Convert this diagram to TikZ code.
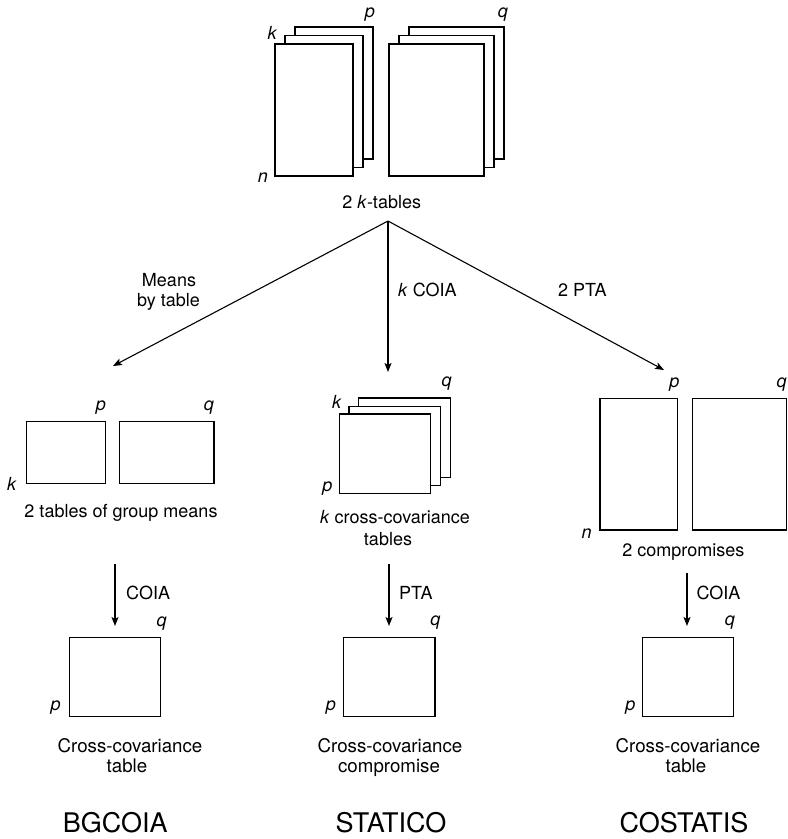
\documentclass[tikz,border=0pt]{standalone}
\usepackage{fontspec}
\setmainfont{TeX Gyre Heros}
\usetikzlibrary{arrows.meta}
\begin{document}
\begin{tikzpicture}[x=1pt,y=-1pt,
  tbl/.style={draw, line width=1.3pt, fill=white, inner sep=0pt, outer sep=0pt},
  txt/.style={inner sep=0pt, font=\fontsize{18}{21}\selectfont},
  captxt/.style={txt, anchor=base},
  lbl/.style={txt, anchor=base west},
  bcap/.style={inner sep=0pt, anchor=base, font=\fontsize{18.7}{21}\selectfont},
  dimlab/.style={inner sep=0pt, font=\fontsize{18}{21}\selectfont\itshape},
  titletxt/.style={inner sep=0pt, anchor=base, font=\fontsize{27}{30}\selectfont},
  arr/.style={line width=1.1pt, -{Stealth[length=9pt,width=7pt,inset=2pt]}}]
\useasboundingbox (0,0) rectangle (788,839);

% ---------- top: 2 k-tables ----------
\node[tbl, minimum width=78pt, minimum height=132pt] (tLb) at (334,93) {};
\node[tbl, minimum width=78pt, minimum height=132pt] (tLm) at (324,101.5) {};
\node[tbl, minimum width=78pt, minimum height=132pt] (tLf) at (314,110) {};
\node[tbl, minimum width=95pt, minimum height=132pt] (tRb) at (456.5,93) {};
\node[tbl, minimum width=95pt, minimum height=132pt] (tRm) at (446.5,101.5) {};
\node[tbl, minimum width=95pt, minimum height=132pt] (tRf) at (436.5,110) {};
\node[dimlab] (tk) at (272,33) {k};
\node[dimlab] (tp) at (370,15) {p};
\node[dimlab] (tn) at (263,178) {n};
\node[dimlab] (tq) at (503,15) {q};
\node[captxt] (ktables) at (381.7,208) {2 \textit{k}-tables};

% ---------- branch arrows ----------
\coordinate (apex) at (388,221);
\coordinate (endL) at (113,366);
\coordinate (endM) at (388,372);
\coordinate (endR) at (664,370);
\draw[arr] (apex) -- (endL);
\draw[arr] (apex) -- (endM);
\draw[arr] (apex) -- (endR);
\node[captxt] (means1) at (169,286) {Means};
\node[captxt] (means2) at (168.5,306.7) {by table};
\node[lbl] (kcoia) at (398,296) {\textit{k} COIA};
\node[lbl] (pta2) at (558,296) {2 PTA};

% ---------- middle left: group means ----------
\node[tbl, minimum width=78.6pt, minimum height=61.6pt] (gmL) at (66,452.5) {};
\node[tbl, minimum width=94.7pt, minimum height=61.6pt] (gmR) at (166.7,452.5) {};
\node[dimlab] (gk) at (11.7,484) {k};
\node[dimlab] (gp) at (101,408) {p};
\node[dimlab] (gq) at (209,408) {q};
\node[captxt] (gcap) at (121,517) {2 tables of group means};

% ---------- middle: k cross-covariance tables ----------
\node[tbl, minimum width=91.4pt, minimum height=79.3pt] (ccb) at (404.5,437.7) {};
\node[tbl, minimum width=91.4pt, minimum height=79.3pt] (ccm) at (394.7,445.8) {};
\node[tbl, minimum width=91.4pt, minimum height=79.3pt] (ccf) at (385,453.7) {};
\node[dimlab] (ck) at (336.7,401.7) {k};
\node[dimlab] (cp) at (327.3,488.3) {p};
\node[dimlab] (cq) at (446.7,383.3) {q};
\node[captxt] (ccap1) at (395,523.5) {\textit{k} cross-covariance};
\node[captxt] (ccap2) at (388,545) {tables};

% ---------- middle right: compromises ----------
\node[tbl, minimum width=77.7pt, minimum height=131.7pt] (cmL) at (638.9,464.2) {};
\node[tbl, minimum width=94.4pt, minimum height=131.7pt] (cmR) at (739.5,464.2) {};
\node[dimlab] (mp) at (674.3,385) {p};
\node[dimlab] (mq) at (781.7,385) {q};
\node[dimlab] (mn) at (586.7,534) {n};
\node[captxt] (mcap) at (683.3,556) {2 compromises};

% ---------- second arrows ----------
\coordinate (sL) at (115,564);
\coordinate (eL) at (115,626);
\coordinate (sM) at (389,564);
\coordinate (eM) at (389,626);
\coordinate (sR) at (687,573);
\coordinate (eR) at (687,626);
\draw[arr] (sL) -- (eL);
\draw[arr] (sM) -- (eM);
\draw[arr] (sR) -- (eR);
\node[lbl] (coiaL) at (126,599) {COIA};
\node[lbl] (ptaM) at (399,599) {PTA};
\node[lbl] (coiaR) at (696.4,599) {COIA};

% ---------- bottom squares ----------
\node[tbl, minimum width=91.4pt, minimum height=79.4pt] (bL) at (114.9,677) {};
\node[tbl, minimum width=91.4pt, minimum height=79.4pt] (bM) at (389.4,677) {};
\node[tbl, minimum width=91.4pt, minimum height=79.4pt] (bR) at (688.1,677) {};
\node[dimlab] (bLq) at (161.6,623.3) {q};
\node[dimlab] (bMq) at (435.4,623) {q};
\node[dimlab] (bRq) at (729.8,623) {q};
\node[dimlab] (bLp) at (55.6,708) {p};
\node[dimlab] (bMp) at (330.8,708) {p};
\node[dimlab] (bRp) at (630.3,708) {p};

\node[bcap] (bLc1) at (130,752.7) {Cross-covariance};
\node[bcap] (bLc2) at (127,772.7) {table};
\node[bcap] (bMc1) at (390,752.7) {Cross-covariance};
\node[bcap] (bMc2) at (389,772.7) {compromise};
\node[bcap] (bRc1) at (688,752.7) {Cross-covariance};
\node[bcap] (bRc2) at (686,772.7) {table};

% ---------- titles ----------
\node[titletxt] (t1) at (115.2,832) {BGCOIA};
\node[titletxt] (t2) at (391,832) {STATICO};
\node[titletxt] (t3) at (684,832) {COSTATIS};
\end{tikzpicture}
\end{document}
